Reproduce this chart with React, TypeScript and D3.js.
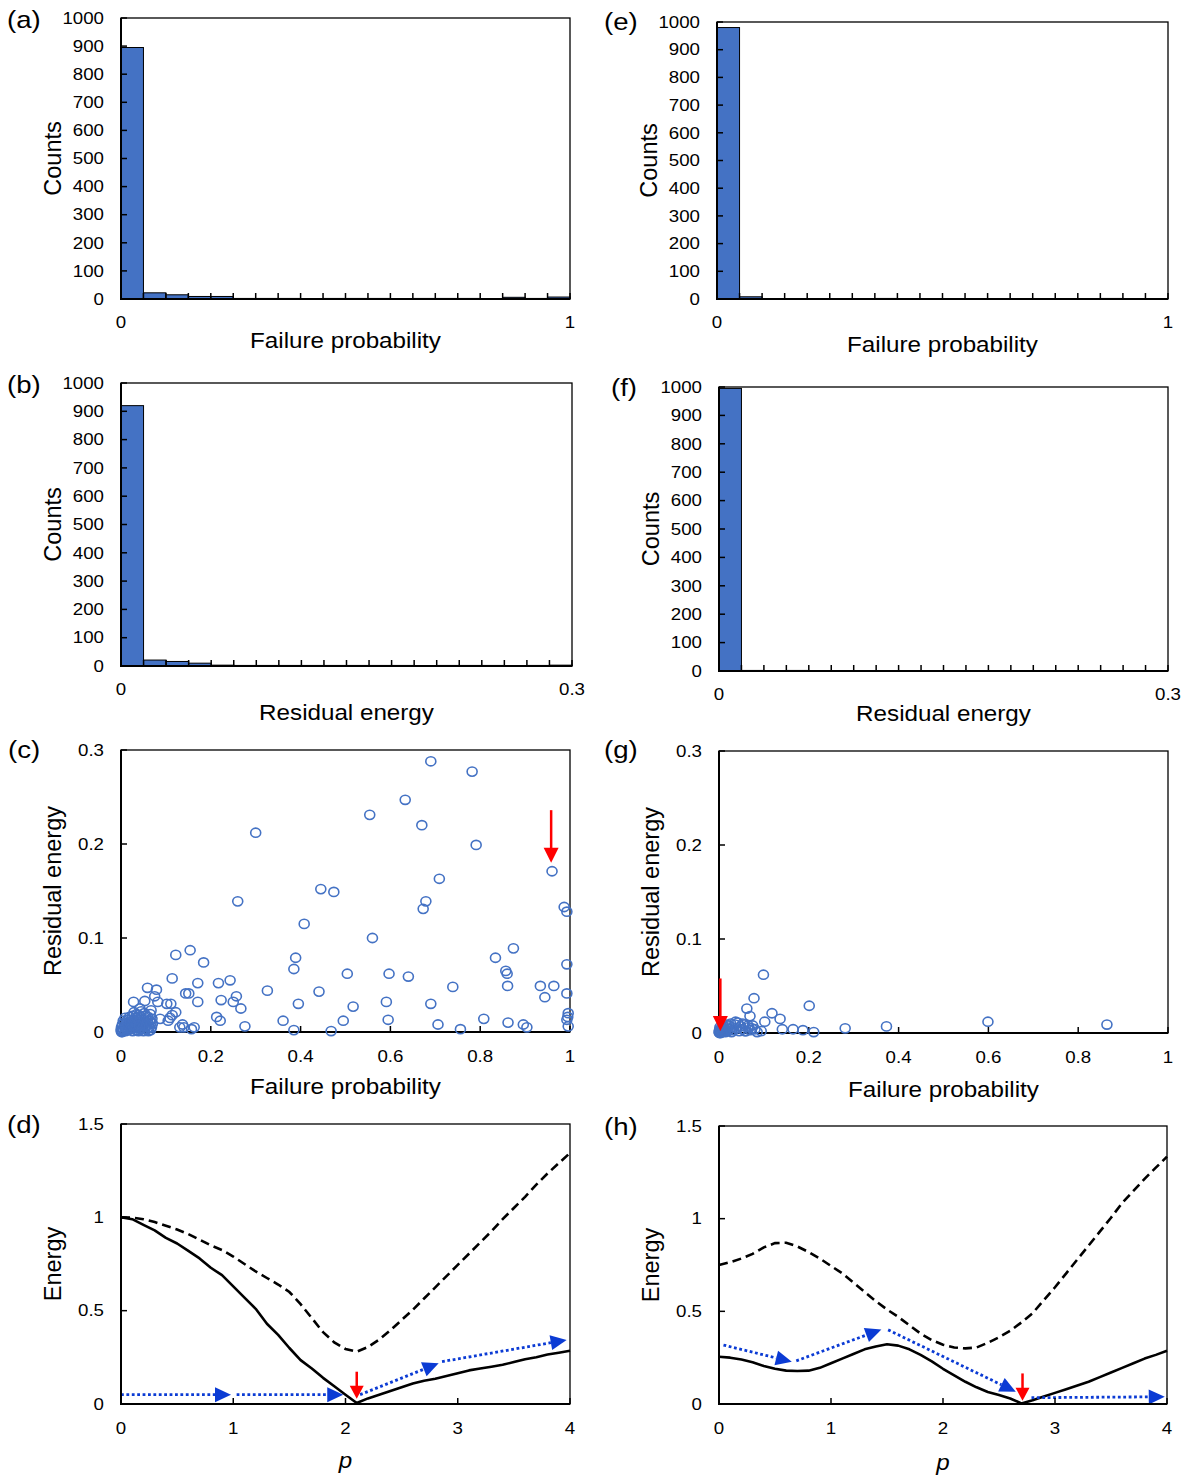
import React from "react";
import * as d3 from "d3";

const FONT = '"Liberation Sans", Arial, Helvetica, sans-serif';
const BAR = "#4472C4";
const DOT = "#0B3BD4";
const RED = "#FF0000";

// ---------------- DATA ----------------
// Histogram counts (20 bins each)
const countsA = [895, 22, 15, 9, 9, 2, 2, 2, 1, 2, 2, 2, 1, 2, 2, 2, 1, 6, 2, 7];
const countsE = [980, 8, 1, 1, 1, 1, 0, 2, 0, 0, 0, 1, 0, 0, 0, 0, 0, 2, 0, 0];
const countsB = [920, 21, 16, 10, 3, 2, 2, 2, 2, 2, 2, 2, 2, 0, 2, 2, 2, 0, 2, 3];
const countsF = [995, 2, 1, 2, 0, 0, 0, 0, 0, 0, 0, 0, 0, 0, 0, 0, 0, 0, 0, 0];

// Scatter (failure probability, residual energy)
const scatterC: [number, number][] = [
  [0.300, 0.212], [0.260, 0.139], [0.445, 0.152], [0.474, 0.149], [0.408, 0.115],
  [0.389, 0.079], [0.385, 0.067], [0.504, 0.062], [0.122, 0.082], [0.154, 0.087],
  [0.184, 0.074], [0.114, 0.057], [0.171, 0.052], [0.217, 0.052], [0.243, 0.055],
  [0.059, 0.047], [0.079, 0.045], [0.075, 0.038], [0.326, 0.044], [0.441, 0.043],
  [0.144, 0.041], [0.151, 0.041], [0.257, 0.038], [0.223, 0.034], [0.250, 0.032],
  [0.267, 0.025], [0.171, 0.032], [0.395, 0.030], [0.028, 0.032], [0.053, 0.033],
  [0.082, 0.032], [0.102, 0.030], [0.111, 0.030], [0.122, 0.021], [0.114, 0.018],
  [0.109, 0.015], [0.105, 0.012], [0.087, 0.014], [0.042, 0.025], [0.067, 0.023],
  [0.213, 0.016], [0.221, 0.012], [0.276, 0.006], [0.361, 0.012], [0.385, 0.002],
  [0.468, 0.001], [0.495, 0.012], [0.137, 0.008], [0.131, 0.005], [0.140, 0.005],
  [0.157, 0.003], [0.163, 0.005],
  [0.690, 0.288], [0.782, 0.277], [0.633, 0.247], [0.554, 0.231], [0.670, 0.220],
  [0.791, 0.199], [0.960, 0.171], [0.709, 0.163], [0.679, 0.139], [0.673, 0.131],
  [0.987, 0.133], [0.993, 0.128], [0.560, 0.100], [0.874, 0.089], [0.834, 0.079],
  [0.993, 0.072], [0.857, 0.065], [0.860, 0.062], [0.597, 0.062], [0.640, 0.059],
  [0.739, 0.048], [0.861, 0.049], [0.934, 0.049], [0.964, 0.049], [0.944, 0.037],
  [0.993, 0.041], [0.517, 0.027], [0.591, 0.032], [0.690, 0.030], [0.595, 0.013],
  [0.808, 0.014], [0.706, 0.008], [0.756, 0.003], [0.862, 0.010], [0.896, 0.008],
  [0.904, 0.005], [0.996, 0.020], [0.995, 0.016], [0.993, 0.013], [0.996, 0.006],
  [0.002, 0.001], [0.004, 0.003], [0.006, 0.002], [0.008, 0.005], [0.010, 0.001],
  [0.012, 0.004], [0.014, 0.007], [0.016, 0.002], [0.018, 0.010], [0.020, 0.003],
  [0.022, 0.006], [0.024, 0.012], [0.026, 0.001], [0.028, 0.008], [0.030, 0.004],
  [0.032, 0.015], [0.034, 0.002], [0.036, 0.009], [0.038, 0.005], [0.040, 0.018],
  [0.042, 0.011], [0.044, 0.003], [0.046, 0.007], [0.048, 0.013], [0.050, 0.001],
  [0.052, 0.020], [0.054, 0.006], [0.056, 0.010], [0.058, 0.003], [0.060, 0.016],
  [0.062, 0.008], [0.064, 0.012], [0.066, 0.002], [0.068, 0.005], [0.070, 0.009],
  [0.003, 0.008], [0.005, 0.012], [0.007, 0.010], [0.009, 0.015], [0.011, 0.009],
  [0.013, 0.002], [0.015, 0.013], [0.017, 0.006], [0.019, 0.016], [0.021, 0.011],
  [0.023, 0.004], [0.025, 0.017], [0.027, 0.013], [0.029, 0.021], [0.031, 0.010],
  [0.033, 0.006], [0.035, 0.019], [0.037, 0.013], [0.039, 0.001], [0.041, 0.007],
  [0.043, 0.016], [0.045, 0.022], [0.047, 0.004], [0.049, 0.009], [0.051, 0.014],
  [0.053, 0.003], [0.055, 0.017], [0.057, 0.007], [0.059, 0.012], [0.061, 0.001],
  [0.063, 0.005], [0.065, 0.019], [0.067, 0.010], [0.069, 0.014], [0.001, 0.005],
  [0.002, 0.002], [0.001, 0.000], [0.003, 0.000], [0.000, 0.002],
];

const scatterG: [number, number][] = [
  [0.099, 0.062], [0.078, 0.037], [0.062, 0.026], [0.069, 0.018], [0.118, 0.021],
  [0.201, 0.029], [0.136, 0.015], [0.102, 0.012], [0.141, 0.004], [0.165, 0.004],
  [0.187, 0.003], [0.211, 0.001], [0.281, 0.005], [0.373, 0.007], [0.094, 0.002],
  [0.599, 0.012], [0.864, 0.009], [0.037, 0.012], [0.053, 0.010], [0.065, 0.008],
  [0.073, 0.005], [0.058, 0.002],
  [0.001, 0.000], [0.002, 0.001], [0.003, 0.002], [0.004, 0.000], [0.005, 0.003],
  [0.006, 0.001], [0.008, 0.004], [0.010, 0.002], [0.012, 0.005], [0.014, 0.001],
  [0.016, 0.003], [0.018, 0.006], [0.020, 0.002], [0.022, 0.008], [0.024, 0.004],
  [0.026, 0.010], [0.028, 0.001], [0.030, 0.006], [0.033, 0.003], [0.036, 0.009],
  [0.039, 0.005], [0.042, 0.011], [0.045, 0.002], [0.048, 0.007], [0.052, 0.004],
  [0.056, 0.009], [0.060, 0.002], [0.065, 0.006], [0.070, 0.003], [0.075, 0.008],
  [0.080, 0.004], [0.085, 0.001], [0.010, 0.007], [0.015, 0.009], [0.007, 0.006],
  [0.000, 0.001], [0.001, 0.003], [0.003, 0.004], [0.002, 0.006],
];

// Energy vs p
const pGrid = [
  0, 0.1, 0.2, 0.3, 0.4, 0.5, 0.6, 0.7, 0.8, 0.9, 1.0, 1.1, 1.2, 1.3, 1.4, 1.5, 1.6, 1.7,
  1.8, 1.9, 2.0, 2.1, 2.2, 2.3, 2.4, 2.5, 2.6, 2.7, 2.8, 2.9, 3.0, 3.1, 3.2, 3.3, 3.4, 3.5,
  3.6, 3.7, 3.8, 3.9, 4.0,
];
const energyDSolid = [
  1.0, 0.99, 0.96, 0.93, 0.89, 0.86, 0.82, 0.78, 0.73, 0.69, 0.63, 0.57, 0.51, 0.43, 0.37,
  0.3, 0.235, 0.19, 0.14, 0.095, 0.05, 0.005, 0.03, 0.05, 0.07, 0.09, 0.11, 0.125, 0.135,
  0.15, 0.165, 0.18, 0.19, 0.2, 0.21, 0.225, 0.24, 0.25, 0.265, 0.275, 0.285,
];
const energyDDashed = [
  1.0, 0.998, 0.99, 0.975, 0.955, 0.935, 0.91, 0.88, 0.85, 0.825, 0.79, 0.75, 0.71, 0.675,
  0.64, 0.6, 0.535, 0.46, 0.385, 0.33, 0.295, 0.28, 0.305, 0.345, 0.395, 0.45, 0.505, 0.565,
  0.625, 0.685, 0.745, 0.805, 0.865, 0.925, 0.99, 1.05, 1.11, 1.175, 1.235, 1.29, 1.345,
];
const energyHSolid = [
  0.255, 0.25, 0.24, 0.225, 0.205, 0.19, 0.18, 0.178, 0.18, 0.195, 0.22, 0.245, 0.27, 0.295,
  0.31, 0.322, 0.315, 0.295, 0.265, 0.23, 0.19, 0.155, 0.12, 0.09, 0.065, 0.048, 0.03, 0.003,
  0.02, 0.04, 0.06, 0.08, 0.1, 0.12, 0.145, 0.17, 0.195, 0.22, 0.245, 0.265, 0.287,
];
const energyHDashed = [
  0.75, 0.765, 0.785, 0.81, 0.845, 0.868, 0.87, 0.85, 0.82, 0.785, 0.745, 0.705, 0.655, 0.605,
  0.555, 0.51, 0.47, 0.425, 0.38, 0.345, 0.32, 0.305, 0.3, 0.305, 0.33, 0.36, 0.395, 0.44,
  0.49, 0.56, 0.63, 0.705, 0.78, 0.855, 0.93, 1.005, 1.085, 1.15, 1.215, 1.275, 1.335,
];

// Blue dotted arrows: [x0, y0, x1, y1] in data units
const arrowsD: [number, number, number, number][] = [
  [0, 0.05, 0.98, 0.05],
  [1.03, 0.05, 1.98, 0.05],
  [2.13, 0.05, 2.83, 0.218],
  [2.86, 0.227, 3.97, 0.343],
];
const arrowsH: [number, number, number, number][] = [
  [0.04, 0.318, 0.65, 0.228],
  [0.69, 0.233, 1.45, 0.402],
  [1.51, 0.4, 2.65, 0.066],
  [2.79, 0.034, 3.98, 0.039],
];
// Red arrows: [x, yStart, yTip]
const redC: [number, number, number] = [0.958, 0.236, 0.18];
const redG: [number, number, number] = [0.003, 0.058, 0.002];
const redD: [number, number, number] = [2.1, 0.173, 0.028];
const redH: [number, number, number] = [2.71, 0.165, 0.018];

// ---------------- LAYOUT ----------------
type Box = { l: number; r: number; t: number; b: number };
const boxA: Box = { l: 121, r: 570, t: 18, b: 299 };
const boxB: Box = { l: 121, r: 572, t: 383, b: 666 };
const boxC: Box = { l: 121, r: 570, t: 750, b: 1032 };
const boxD: Box = { l: 121, r: 570, t: 1124, b: 1404 };
const boxE: Box = { l: 717, r: 1168, t: 22, b: 299 };
const boxF: Box = { l: 719, r: 1168, t: 387, b: 671 };
const boxG: Box = { l: 719, r: 1168, t: 751, b: 1033 };
const boxH: Box = { l: 719, r: 1167, t: 1126, b: 1404 };

function Txt(props: {
  x: number; y: number; size: number; anchor?: string; rot?: number;
  sx?: number; sy?: number; italic?: boolean; children: React.ReactNode;
}) {
  const { x, y, size, anchor = "middle", rot = 0, sx = 1.1, sy = 1, italic = false } = props;
  return (
    <text
      transform={`translate(${x},${y}) rotate(${rot}) scale(${sx},${sy})`}
      fontSize={size}
      textAnchor={anchor}
      dominantBaseline="central"
      fontFamily={FONT}
      fontStyle={italic ? "italic" : "normal"}
      fill="#000"
    >
      {props.children}
    </text>
  );
}

function Frame({ box }: { box: Box }) {
  return (
    <g>
      <rect x={box.l} y={box.t} width={box.r - box.l} height={box.b - box.t} fill="none" stroke="#000" strokeWidth={1.3} />
      <line x1={box.l} x2={box.l} y1={box.t} y2={box.b + 1} stroke="#000" strokeWidth={2} />
      <line x1={box.l - 1} x2={box.r} y1={box.b} y2={box.b} stroke="#000" strokeWidth={2} />
    </g>
  );
}

function Ticks({ box, xs, ys }: { box: Box; xs: number[]; ys: number[] }) {
  const L = 6;
  return (
    <g stroke="#000" strokeWidth={1.5}>
      {xs.map((v, i) => (
        <line key={"x" + i} x1={v} x2={v} y1={box.b} y2={box.b - L} />
      ))}
      {ys.map((v, i) => (
        <line key={"y" + i} x1={box.l} x2={box.l + L} y1={v} y2={v} />
      ))}
    </g>
  );
}

function Letter({ x, y, t }: { x: number; y: number; t: string }) {
  return <Txt x={x} y={y} size={24} anchor="start" sx={1.15}>{t}</Txt>;
}

function YTitle({ box, text }: { box: Box; text: string }) {
  return (
    <Txt x={box.l - 69} y={(box.t + box.b) / 2} size={22} rot={-90} sx={1.07} sy={1.1}>
      {text}
    </Txt>
  );
}

function HistPanel(props: {
  box: Box; counts: number[]; xMax: number; xMaxLabel: string; xTitle: string;
  titleY: number; letter: string; letterX: number; letterY: number;
}) {
  const { box, counts, xMax } = props;
  const x = d3.scaleLinear().domain([0, xMax]).range([box.l, box.r]);
  const y = d3.scaleLinear().domain([0, 1000]).range([box.b, box.t]);
  const w = xMax / counts.length;
  const edges = d3.range(counts.length + 1).map((i) => x(i * w));
  const yt = y.ticks(10);
  return (
    <g>
      {counts.map((c, i) =>
        c > 0 ? (
          <rect key={i} x={x(i * w)} y={y(c)} width={x((i + 1) * w) - x(i * w)} height={box.b - y(c)}
            fill={BAR} stroke="#000" strokeWidth={1} />
        ) : null
      )}
      <Frame box={box} />
      <Ticks box={box} xs={edges} ys={yt.map(y)} />
      {yt.map((v) => (
        <Txt key={v} x={box.l - 17} y={y(v)} size={17} anchor="end">{String(v)}</Txt>
      ))}
      <Txt x={box.l} y={box.b + 23} size={17}>0</Txt>
      <Txt x={box.r} y={box.b + 23} size={17}>{props.xMaxLabel}</Txt>
      <Txt x={(box.l + box.r) / 2} y={props.titleY} size={22}>{props.xTitle}</Txt>
      <YTitle box={box} text="Counts" />
      <Letter x={props.letterX} y={props.letterY} t={props.letter} />
    </g>
  );
}

function RedArrow({ x, y0, y1, head = 14, hw = 7 }: { x: number; y0: number; y1: number; head?: number; hw?: number }) {
  return (
    <g>
      <line x1={x} x2={x} y1={y0} y2={y1 - head + 1} stroke={RED} strokeWidth={2.5} />
      <path d={`M${x - hw},${y1 - head} L${x + hw},${y1 - head} L${x},${y1} Z`} fill={RED} />
    </g>
  );
}

function ScatterPanel(props: {
  box: Box; pts: [number, number][]; red: [number, number, number];
  letter: string; letterX: number; letterY: number; titleY: number;
}) {
  const { box } = props;
  const x = d3.scaleLinear().domain([0, 1]).range([box.l, box.r]);
  const y = d3.scaleLinear().domain([0, 0.3]).range([box.b, box.t]);
  const xt = x.ticks(5);
  const yt = y.ticks(3);
  const [rx, ry0, ry1] = props.red;
  return (
    <g>
      <Frame box={box} />
      <Ticks box={box} xs={xt.map(x)} ys={yt.map(y)} />
      {props.pts.map((d, i) => (
        <ellipse key={i} cx={x(d[0])} cy={y(d[1])} rx={5} ry={4.6} fill="none" stroke={BAR} strokeWidth={1.6} />
      ))}
      <RedArrow x={x(rx)} y0={y(ry0)} y1={y(ry1)} head={15} hw={7.5} />
      {yt.map((v) => (
        <Txt key={v} x={box.l - 17} y={y(v)} size={17} anchor="end">{String(v)}</Txt>
      ))}
      {xt.map((v) => (
        <Txt key={v} x={x(v)} y={box.b + 24} size={17}>{String(v)}</Txt>
      ))}
      <Txt x={(box.l + box.r) / 2} y={props.titleY} size={22}>Failure probability</Txt>
      <YTitle box={box} text="Residual energy" />
      <Letter x={props.letterX} y={props.letterY} t={props.letter} />
    </g>
  );
}

function EnergyPanel(props: {
  box: Box; solid: number[]; dashed: number[]; arrows: [number, number, number, number][];
  red: [number, number, number]; letter: string; letterX: number; letterY: number; titleY: number;
}) {
  const { box } = props;
  const x = d3.scaleLinear().domain([0, 4]).range([box.l, box.r]);
  const y = d3.scaleLinear().domain([0, 1.5]).range([box.b, box.t]);
  const xt = x.ticks(4);
  const yt = y.ticks(3);
  const line = d3
    .line<[number, number]>()
    .x((d) => x(d[0]))
    .y((d) => y(d[1]))
    .curve(d3.curveLinear);
  const solidPts = pGrid.map((p, i) => [p, props.solid[i]] as [number, number]);
  const dashedPts = pGrid.map((p, i) => [p, props.dashed[i]] as [number, number]);
  const [rx, ry0, ry1] = props.red;
  return (
    <g>
      <path d={line(dashedPts) || ""} fill="none" stroke="#000" strokeWidth={2.6} strokeDasharray="9 5" />
      <path d={line(solidPts) || ""} fill="none" stroke="#000" strokeWidth={2.6} strokeLinejoin="round" />
      {props.arrows.map((a, i) => {
        const x0 = x(a[0]), y0 = y(a[1]), x1 = x(a[2]), y1 = y(a[3]);
        const dx = x1 - x0, dy = y1 - y0;
        const len = Math.hypot(dx, dy);
        const ux = dx / len, uy = dy / len;
        const hl = 16, hw = 7.5;
        const bx = x1 - ux * hl, by = y1 - uy * hl;
        return (
          <g key={i}>
            <line x1={x0} y1={y0} x2={bx} y2={by} stroke={DOT} strokeWidth={2.8} strokeDasharray="2.8 2.6" />
            <path d={`M${x1},${y1} L${bx - uy * hw},${by + ux * hw} L${bx + uy * hw},${by - ux * hw} Z`} fill={DOT} />
          </g>
        );
      })}
      <RedArrow x={x(rx)} y0={y(ry0)} y1={y(ry1)} head={13} hw={7} />
      <Frame box={box} />
      <Ticks box={box} xs={xt.map(x)} ys={yt.map(y)} />
      {yt.map((v) => (
        <Txt key={v} x={box.l - 17} y={y(v)} size={17} anchor="end">{String(v)}</Txt>
      ))}
      {xt.map((v) => (
        <Txt key={v} x={x(v)} y={box.b + 24} size={17}>{String(v)}</Txt>
      ))}
      <Txt x={(box.l + box.r) / 2} y={props.titleY} size={22} italic>p</Txt>
      <YTitle box={box} text="Energy" />
      <Letter x={props.letterX} y={props.letterY} t={props.letter} />
    </g>
  );
}

export default function App() {
  return (
    <svg width={1193} height={1476} viewBox="0 0 1193 1476"
      style={{ position: "absolute", left: 0, top: 0, background: "#fff" }}>
      <rect x={0} y={0} width={1193} height={1476} fill="#fff" />
      <HistPanel box={boxA} counts={countsA} xMax={1} xMaxLabel="1" xTitle="Failure probability"
        titleY={340} letter="(a)" letterX={7} letterY={20} />
      <HistPanel box={boxE} counts={countsE} xMax={1} xMaxLabel="1" xTitle="Failure probability"
        titleY={344} letter="(e)" letterX={604} letterY={22} />
      <HistPanel box={boxB} counts={countsB} xMax={0.3} xMaxLabel="0.3" xTitle="Residual energy"
        titleY={712} letter="(b)" letterX={7} letterY={385} />
      <HistPanel box={boxF} counts={countsF} xMax={0.3} xMaxLabel="0.3" xTitle="Residual energy"
        titleY={713} letter="(f)" letterX={611} letterY={388} />
      <ScatterPanel box={boxC} pts={scatterC} red={redC} letter="(c)" letterX={8} letterY={750} titleY={1086} />
      <ScatterPanel box={boxG} pts={scatterG} red={redG} letter="(g)" letterX={604} letterY={750} titleY={1089} />
      <EnergyPanel box={boxD} solid={energyDSolid} dashed={energyDDashed} arrows={arrowsD} red={redD}
        letter="(d)" letterX={7} letterY={1125} titleY={1460} />
      <EnergyPanel box={boxH} solid={energyHSolid} dashed={energyHDashed} arrows={arrowsH} red={redH}
        letter="(h)" letterX={604} letterY={1127} titleY={1462} />
    </svg>
  );
}
